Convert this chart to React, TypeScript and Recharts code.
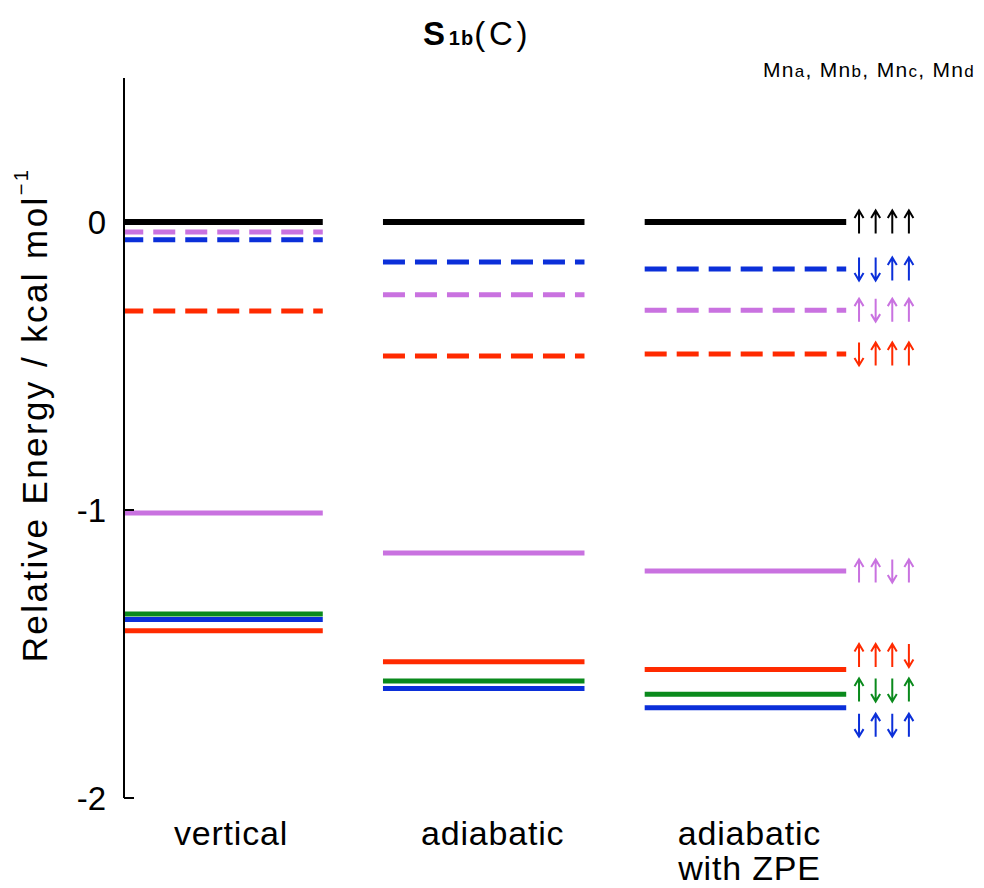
import {
  ComposedChart,
  Line,
  Scatter,
  XAxis,
  YAxis,
  Label,
} from "recharts";

const FONT = "'Liberation Sans', Arial, Helvetica, sans-serif";

// columns of the level diagram
const COLUMNS = [["vertical"], ["adiabatic"], ["adiabatic", "with ZPE"]];
const Y_TICKS = [-2, -1, 0];

// relative energies (kcal/mol) per state: vertical, adiabatic, adiabatic with ZPE
const BLACK_SOLID = [0, 0, 0];
const BLUE_DASHED = [-0.062, -0.139, -0.163];
const PURPLE_DASHED = [-0.035, -0.253, -0.306];
const RED_DASHED = [-0.309, -0.465, -0.458];
const PURPLE_SOLID = [-1.01, -1.149, -1.212];
const RED_SOLID = [-1.419, -1.527, -1.554];
const GREEN_SOLID = [-1.361, -1.594, -1.64];
const BLUE_SOLID = [-1.38, -1.62, -1.687];

// spin patterns for Mna, Mnb, Mnc, Mnd (u = up, d = down) and where they sit
const BLACK_SPINS = "uuuu";
const BLUE_DASHED_SPINS = "dduu";
const PURPLE_DASHED_SPINS = "uduu";
const RED_DASHED_SPINS = "duuu";
const PURPLE_SOLID_SPINS = "uudu";
const RED_SOLID_SPINS = "uuud";
const GREEN_SOLID_SPINS = "uddu";
const BLUE_SOLID_SPINS = "dudu";
const SPIN_LABEL_Y = [0, -0.163, -0.306, -0.458, -1.212, -1.505, -1.625, -1.747];

const COLORS = {
  black: "#000000",
  blue: "#0b2fd9",
  purple: "#c972e0",
  red: "#ff2a00",
  green: "#0a8a1c",
};

const STATES = [
  { key: "black", values: BLACK_SOLID, spins: BLACK_SPINS, color: COLORS.black, dashed: false, width: 6 },
  { key: "blueDash", values: BLUE_DASHED, spins: BLUE_DASHED_SPINS, color: COLORS.blue, dashed: true, width: 5 },
  { key: "purpleDash", values: PURPLE_DASHED, spins: PURPLE_DASHED_SPINS, color: COLORS.purple, dashed: true, width: 5 },
  { key: "redDash", values: RED_DASHED, spins: RED_DASHED_SPINS, color: COLORS.red, dashed: true, width: 5 },
  { key: "purple", values: PURPLE_SOLID, spins: PURPLE_SOLID_SPINS, color: COLORS.purple, dashed: false, width: 5 },
  { key: "red", values: RED_SOLID, spins: RED_SOLID_SPINS, color: COLORS.red, dashed: false, width: 5 },
  { key: "green", values: GREEN_SOLID, spins: GREEN_SOLID_SPINS, color: COLORS.green, dashed: false, width: 5 },
  { key: "blue", values: BLUE_SOLID, spins: BLUE_SOLID_SPINS, color: COLORS.blue, dashed: false, width: 5 },
];

const HALF = 0.385;
const SPIN_X0 = 2.434;
const SPIN_DX = 0.0635;
// small horizontal nudges so the column captions sit as in the figure
const LABEL_NUDGE = [9, 9, 4];

function segments(values: number[]) {
  return values.flatMap((v, i) => [
    { x: i - HALF, y: v },
    { x: i + HALF, y: v },
    { x: i + 0.5, y: null },
  ]);
}

const ARROWS = STATES.flatMap((s, si) =>
  s.spins.split("").map((d, k) => ({
    x: SPIN_X0 + k * SPIN_DX,
    y: SPIN_LABEL_Y[si],
    up: d === "u",
    color: s.color,
  }))
);

function Arrow(props: any) {
  const { cx, cy, payload } = props;
  if (cx == null || cy == null) return null;
  const h = 11.5;
  const tip = payload.up ? cy - h : cy + h;
  const s = payload.up ? 1 : -1;
  return (
    <path
      d={`M${cx},${cy + h * s} L${cx},${tip} M${cx - 4.5},${tip + 7.5 * s} L${cx},${tip} L${cx + 4.5},${tip + 7.5 * s}`}
      stroke={payload.color}
      strokeWidth={2}
      fill="none"
    />
  );
}

function YTick(props: any) {
  const { x, y, payload } = props;
  return (
    <g>
      <line x1={x + 18} y1={y} x2={x + 28} y2={y} stroke="#000" strokeWidth={2} />
      <text x={x} y={y} dy={12} textAnchor="end" fontSize={33} fontFamily={FONT} fill="#000">
        {payload.value}
      </text>
    </g>
  );
}

function XTick(props: any) {
  const { x, y, payload } = props;
  const lines = COLUMNS[payload.value] || [];
  const cx = x + (LABEL_NUDGE[payload.value] || 0);
  return (
    <text x={cx} y={y} textAnchor="middle" fontSize={34} letterSpacing={0.8} fontFamily={FONT} fill="#000">
      {lines.map((t, i) => (
        <tspan key={i} x={cx} dy={i === 0 ? 39 : 35}>
          {t}
        </tspan>
      ))}
    </text>
  );
}

function YLabel(props: any) {
  const { viewBox } = props;
  const x = viewBox.x + 26;
  const y = 407;
  return (
    <text
      x={x}
      y={y}
      transform={`rotate(-90, ${x}, ${y})`}
      textAnchor="middle"
      dominantBaseline="central"
      fontSize={35}
      letterSpacing={2.4}
      fontFamily={FONT}
      fill="#000"
    >
      Relative Energy / kcal mol
      <tspan fontSize={20} dy={-13}>
        −1
      </tspan>
    </text>
  );
}

export default function App() {
  return (
    <div style={{ position: "relative", width: 976, height: 880, fontFamily: FONT }}>
      <div
        style={{
          position: "absolute",
          left: 415,
          top: 7,
          fontSize: 33,
          letterSpacing: 3.8,
          color: "#000",
          whiteSpace: "nowrap",
        }}
      >
        <b>S</b>
        <b style={{ fontSize: 20, letterSpacing: 1 }}>1b</b>
        <span>(C)</span>
      </div>
      <div
        style={{
          position: "absolute",
          left: 755,
          top: 50,
          fontSize: 21,
          letterSpacing: 1.3,
          color: "#000",
          whiteSpace: "nowrap",
        }}
      >
        Mn<span style={{ fontSize: 17 }}>a</span>, Mn<span style={{ fontSize: 17 }}>b</span>, Mn
        <span style={{ fontSize: 17 }}>c</span>, Mn<span style={{ fontSize: 17 }}>d</span>
      </div>
      <ComposedChart width={976} height={880} margin={{ top: 70, right: 14, bottom: 10, left: 0 }}>
        <XAxis
          dataKey="x"
          type="number"
          domain={[-0.3745, 2.858]}
          allowDataOverflow
          ticks={[0, 1, 2]}
          axisLine={false}
          tickLine={false}
          tick={<XTick />}
          height={80}
          interval={0}
        />
        <YAxis
          type="number"
          domain={[-2, 0.5]}
          ticks={Y_TICKS}
          width={116}
          tickSize={0}
          tickMargin={18}
          tickLine={false}
          axisLine={{ stroke: "#000", strokeWidth: 2 }}
          tick={<YTick />}
          interval={0}
        >
          <Label content={<YLabel />} />
        </YAxis>
        {STATES.map((s) => (
          <Line
            key={s.key}
            data={segments(s.values)}
            dataKey="y"
            type="linear"
            stroke={s.color}
            strokeWidth={s.width}
            strokeDasharray={s.dashed ? "22 10" : undefined}
            strokeLinecap="butt"
            dot={false}
            activeDot={false}
            connectNulls={false}
            isAnimationActive={false}
          />
        ))}
        <Scatter data={ARROWS} dataKey="y" shape={<Arrow />} isAnimationActive={false} />
      </ComposedChart>
    </div>
  );
}
